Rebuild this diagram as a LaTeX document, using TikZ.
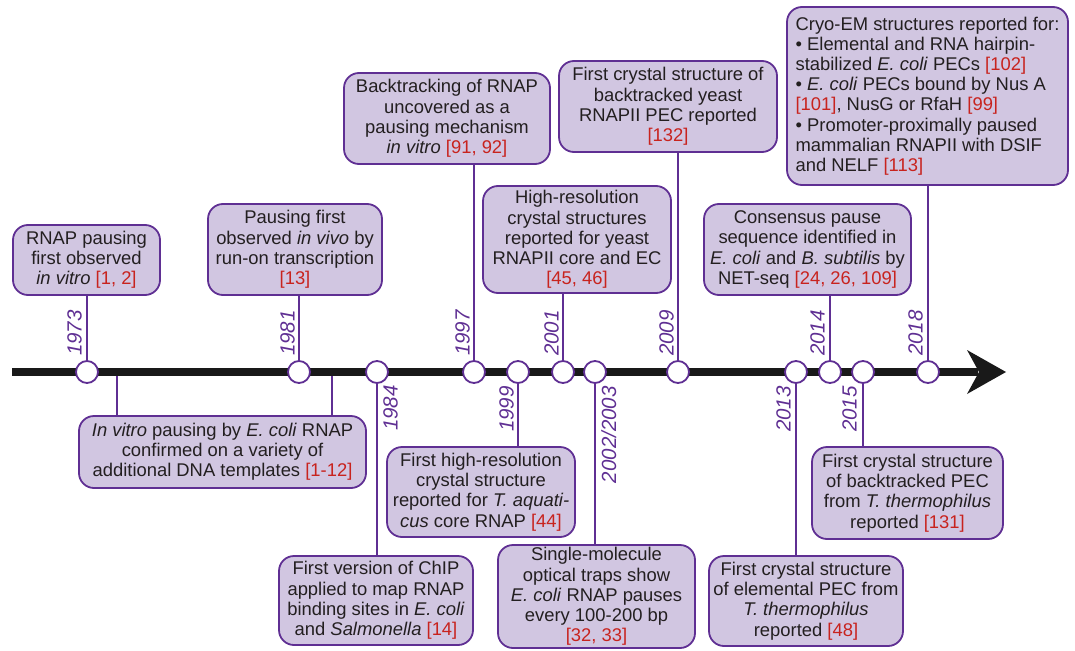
\documentclass[tikz,border=0pt]{standalone}
\usepackage{fontspec}
\setmainfont{Liberation Sans}
\definecolor{boxfill}{HTML}{D1C6E1}
\definecolor{ppl}{HTML}{5F2F93}
\definecolor{refred}{HTML}{C8231E}
\definecolor{txt}{HTML}{231F20}
\newcommand{\refc}[1]{\textcolor{refred}{#1}}
\begin{document}
\begin{tikzpicture}[x=1pt,y=-1pt,
  evbox/.style={draw=ppl, fill=boxfill, line width=1.8pt, rounded corners=15pt,
    inner sep=0pt, align=center, text=txt,
    font=\fontsize{18.4}{20.2}\selectfont},
  dot/.style={circle, draw=ppl, fill=white, line width=1.8pt, minimum size=22pt, inner sep=0pt},
  conn/.style={draw=ppl, line width=1.8pt},
  yr/.style={rotate=90, inner sep=0pt, text=ppl, font=\fontsize{20.5}{22}\selectfont\itshape}]
\useasboundingbox (0,0) rectangle (1075,650);

% boxes
\node[evbox, minimum width=147pt, minimum height=70pt] (A) at (86.5,260) {RNAP pausing\\first observed\\\textit{in vitro} \refc{[1, 2]}};
\node[evbox, minimum width=174pt, minimum height=91pt] (B) at (295,249.5) {Pausing first\\observed \textit{in vivo} by\\run-on transcription\\\refc{[13]}};
\node[evbox, minimum width=287pt, minimum height=72pt] (C) at (222.5,452) {\textit{In vitro} pausing by \textit{E. coli} RNAP\\confirmed on a variety of\\additional DNA templates \refc{[1-12]}};
\node[evbox, minimum width=194pt, minimum height=89pt] (D) at (376,600.5) {First version of ChIP\\applied to map RNAP\\binding sites in \textit{E. coli}\\and \textit{Salmonella} \refc{[14]}};
\node[evbox, minimum width=206pt, minimum height=91pt] (E) at (447,118.5) {Backtracking of RNAP\\uncovered as a\\pausing mechanism\\\textit{in vitro} \refc{[91, 92]}};
\node[evbox, minimum width=188pt, minimum height=90pt] (F) at (481,492) {First high-resolution\\crystal structure\\reported for \textit{T. aquati-}\\\textit{cus} core RNAP \refc{[44]}};
\node[evbox, minimum width=188pt, minimum height=107pt] (G) at (577,239.5) {High-resolution\\crystal structures\\reported for yeast\\RNAPII core and EC\\\refc{[45, 46]}};
\node[evbox, minimum width=197pt, minimum height=103pt] (H) at (596.5,596.5) {Single-molecule\\optical traps show\\\textit{E. coli} RNAP pauses\\every 100-200 bp\\\refc{[32, 33]}};
\node[evbox, minimum width=218pt, minimum height=91pt] (I) at (668,106.5) {First crystal structure of\\backtracked yeast\\RNAPII PEC reported\\\refc{[132]}};
\node[evbox, minimum width=194pt, minimum height=90pt] (J) at (806,601) {First crystal structure\\of elemental PEC from\\\textit{T. thermophilus}\\reported \refc{[48]}};
\node[evbox, minimum width=207pt, minimum height=91pt] (K) at (807.5,249.5) {Consensus pause\\sequence identified in\\\textit{E. coli} and \textit{B. subtilis} by\\NET-seq \refc{[24, 26, 109]}};
\node[evbox, minimum width=191pt, minimum height=92pt] (L) at (907.5,493) {First crystal structure\\of backtracked PEC\\from \textit{T. thermophilus}\\reported \refc{[131]}};
\node[evbox, minimum width=281pt, minimum height=178pt, align=left] (M) at (927.5,96) {Cryo-EM structures reported for:\\• Elemental and RNA hairpin-\\stabilized \textit{E. coli} PECs \refc{[102]}\\• \textit{E. coli} PECs bound by Nus A\\\refc{[101]}, NusG or RfaH \refc{[99]}\\• Promoter-proximally paused\\mammalian RNAPII with DSIF\\and NELF \refc{[113]}};

% timeline anchors
\coordinate (c1) at (117,372);
\coordinate (c2) at (332,372);
\draw[conn] (c1) -- (c1 |- C.north);
\draw[conn] (c2) -- (c2 |- C.north);

% circles (positions)
\coordinate (p1973) at (87,372);
\coordinate (p1981) at (299,372);
\coordinate (p1984) at (377,372);
\coordinate (p1997) at (474,372);
\coordinate (p1999) at (518,372);
\coordinate (p2001) at (563,372);
\coordinate (p2002) at (595,372);
\coordinate (p2009) at (678,372);
\coordinate (p2013) at (796,372);
\coordinate (p2014) at (830,372);
\coordinate (p2015) at (863,372);
\coordinate (p2018) at (928,372);

% connectors
\draw[conn] (p1973) -- (p1973 |- A.south);
\draw[conn] (p1981) -- (p1981 |- B.south);
\draw[conn] (p1984) -- (p1984 |- D.north);
\draw[conn] (p1997) -- (p1997 |- E.south);
\draw[conn] (p1999) -- (p1999 |- F.north);
\draw[conn] (p2001) -- (p2001 |- G.south);
\draw[conn] (p2002) -- (p2002 |- H.north);
\draw[conn] (p2009) -- (p2009 |- I.south);
\draw[conn] (p2013) -- (p2013 |- J.north);
\draw[conn] (p2014) -- (p2014 |- K.south);
\draw[conn] (p2015) -- (p2015 |- L.north);
\draw[conn] (p2018) -- (p2018 |- M.south);

% timeline
\coordinate (tstart) at (12,372);
\coordinate (tend) at (978,372);
\coordinate (tip) at (1006,372);
\draw[line width=8pt, color=black!90] (tstart) -- (tend);
\fill[black!90] (tip) -- (967,350) -- (979,372) -- (967,394) -- cycle;

% circles
\foreach \p in {1973,1981,1984,1997,1999,2001,2002,2009,2013,2014,2015,2018}
  \node[dot] (d\p) at (p\p) {};

% year labels
\node[yr, anchor=south west] (y1973) at (82,356) {1973};
\node[yr, anchor=south west] (y1981) at (295,356) {1981};
\node[yr, anchor=north east] (y1984) at (383,385) {1984};
\node[yr, anchor=south west] (y1997) at (470,356) {1997};
\node[yr, anchor=south east] (y1999) at (514,386) {1999};
\node[yr, anchor=south west] (y2001) at (559,356) {2001};
\node[yr, anchor=north east] (y2002) at (601,386) {2002/2003};
\node[yr, anchor=south west] (y2009) at (674,356) {2009};
\node[yr, anchor=south east] (y2013) at (791,386) {2013};
\node[yr, anchor=south west] (y2014) at (825,356) {2014};
\node[yr, anchor=south east] (y2015) at (857,386) {2015};
\node[yr, anchor=south west] (y2018) at (923,356) {2018};
\end{tikzpicture}
\end{document}
